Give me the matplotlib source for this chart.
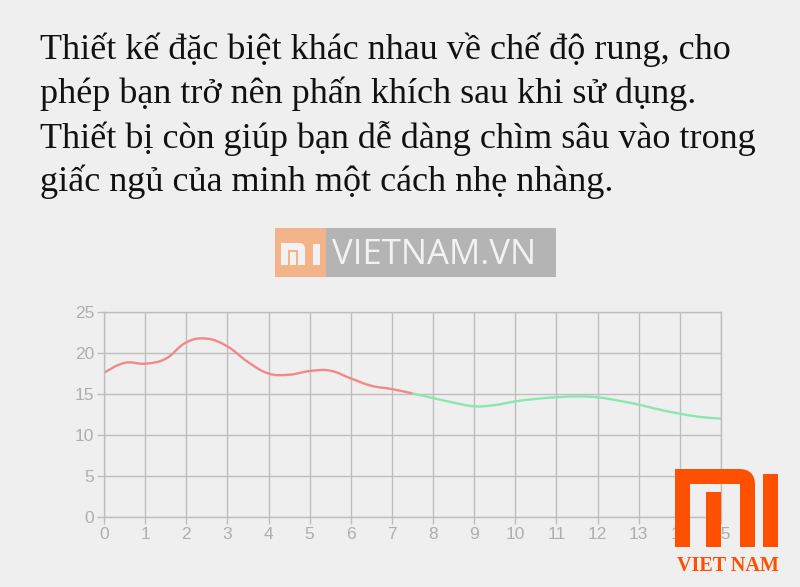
import numpy as np
import matplotlib
matplotlib.use("Agg")
import matplotlib.pyplot as plt
from matplotlib.path import Path
from matplotlib.patches import PathPatch, Rectangle

# caption lines
caption = [
    "Thiết kế đặc biệt khác nhau về chế độ rung, cho",
    "phép bạn trở nên phấn khích sau khi sử dụng.",
    "Thiết bị còn giúp bạn dễ dàng chìm sâu vào trong",
    "giấc ngủ của minh một cách nhẹ nhàng.",
]

# red series (first phase)
red_x = [0, 0.5, 1, 1.5, 2, 2.5, 3, 3.5, 4, 4.5, 5, 5.5, 6, 6.5, 7, 7.5]
red_y = [17.6, 18.8, 18.7, 19.3, 21.3, 21.75, 20.8, 18.9, 17.5, 17.35, 17.8, 17.85, 16.9, 16.0, 15.6, 15.07]

# green series (second phase)
green_x = [7.5, 8, 8.5, 9, 9.5, 10, 10.5, 11, 11.5, 12, 12.5, 13, 13.5, 14, 14.5, 15]
green_y = [15.07, 14.5, 13.95, 13.5, 13.65, 14.1, 14.4, 14.6, 14.7, 14.6, 14.2, 13.7, 13.1, 12.6, 12.2, 12.0]

x_ticks = list(range(0, 16))
y_ticks = [0, 5, 10, 15, 20, 25]

BG = "#efefef"


def smooth_path(xs, ys, tension=0.4):
    # chart.js style bezier through the points
    pts = np.column_stack([xs, ys])
    n = len(pts)
    verts = [pts[0]]
    codes = [Path.MOVETO]
    for i in range(n - 1):
        p0 = pts[i - 1] if i > 0 else pts[i]
        p1 = pts[i]
        p2 = pts[i + 1]
        p3 = pts[i + 2] if i + 2 < n else pts[i + 1]
        c1 = p1 + (p2 - p0) * tension / 2
        c2 = p2 - (p3 - p1) * tension / 2
        verts += [c1, c2, p2]
        codes += [Path.CURVE4] * 3
    return Path(verts, codes)


def arch(x0, y0, x1, y1, t, r):
    # "n" shaped outline, pixel coords (y down), rounded outer top-right corner
    v = [(x0, y1), (x0, y0), (x1 - r, y0), (x1, y0), (x1, y0 + r), (x1, y1),
         (x1 - t, y1), (x1 - t, y0 + t), (x0 + t, y0 + t), (x0 + t, y1), (x0, y1)]
    c = [Path.MOVETO, Path.LINETO, Path.LINETO, Path.CURVE3, Path.CURVE3, Path.LINETO,
         Path.LINETO, Path.LINETO, Path.LINETO, Path.LINETO, Path.CLOSEPOLY]
    return Path(v, c)


fig = plt.figure(figsize=(8, 5.87), dpi=100, facecolor=BG)

# caption text
for i, line in enumerate(caption):
    fig.text(40 / 800, 1 - (50 + i * 44) / 587, line, family="Liberation Serif",
             fontsize=26, color="#111111", va="center", ha="left")

ax = fig.add_axes([104 / 800, 1 - 517 / 587, 617 / 800, 205 / 587])
ax.set_facecolor(BG)
ax.set_xlim(0, 15)
ax.set_ylim(0, 25)
ax.set_xticks(x_ticks)
ax.set_yticks(y_ticks)
ax.grid(True, color="#bdbdbd", linewidth=1)
for s in ax.spines.values():
    s.set_color("#bdbdbd")
    s.set_linewidth(1)
ax.tick_params(colors="#bdbdbd", labelcolor="#aeaeae", labelsize=12.5, length=5, width=1, pad=2)
for lab in ax.get_xticklabels() + ax.get_yticklabels():
    lab.set_family("Liberation Sans")
ax.set_axisbelow(True)

ax.add_patch(PathPatch(smooth_path(red_x, red_y), fill=False, edgecolor="#f08a8a", lw=1.7))
ax.add_patch(PathPatch(smooth_path(green_x, green_y), fill=False, edgecolor="#8ae8ae", lw=1.7))

# overlay for watermark / logo in pixel coords
ov = fig.add_axes([0, 0, 1, 1], zorder=5)
ov.set_xlim(0, 800)
ov.set_ylim(587, 0)
ov.axis("off")
ov.patch.set_alpha(0)

# top watermark
ov.add_patch(Rectangle((275, 228), 51, 49, color="#f4b48a", lw=0))
ov.add_patch(Rectangle((326, 228), 230, 49, color="#b4b4b4", lw=0))
w = "#f2f2f2"
ov.add_patch(PathPatch(arch(281, 243, 305, 265, 7, 6), color=w, lw=0))
ov.add_patch(Rectangle((290, 252), 6, 13, color=w, lw=0))
ov.add_patch(Rectangle((313, 244), 7, 21, color=w, lw=0))
ov.text(332, 255, "VIETNAM.VN", family="Open Sans", fontsize=25, color=w,
        va="center", ha="left")

# bottom right logo
o = "#ff4f00"
ov.add_patch(PathPatch(arch(675, 469, 755, 547, 15, 16), color=o, lw=0))
ov.add_patch(Rectangle((706, 492), 15, 55, color=o, lw=0))
ov.add_patch(Rectangle((763, 474), 15, 73, color=o, lw=0))
ov.text(727.5, 566, "VIET NAM", family="Liberation Serif", fontweight="bold", fontsize=14.5,
        color=o, va="center", ha="center")

fig.savefig("out.png", dpi=100, facecolor=BG)
